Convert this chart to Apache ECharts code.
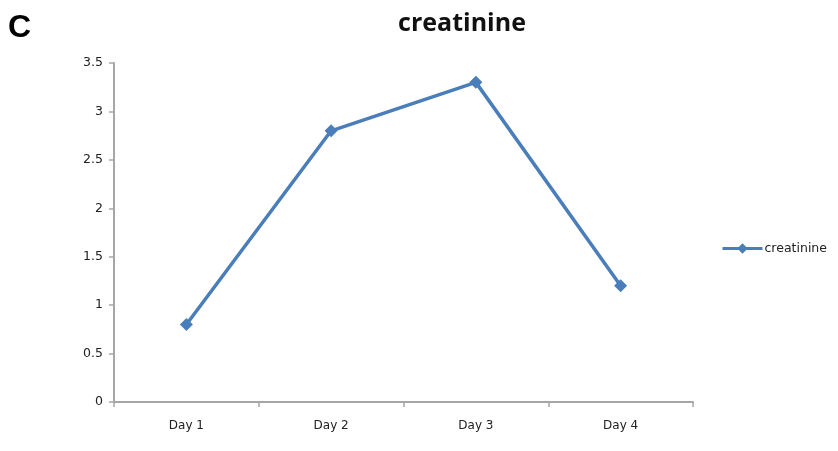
<!DOCTYPE html>
<html><head><meta charset="utf-8">
<script src="https://cdn.jsdelivr.net/npm/echarts@6/dist/echarts.min.js"></script>
<style>html,body{margin:0;padding:0;background:#fff}#c{width:838px;height:451px}</style>
</head><body><div id="c"></div>
<script>
const categories = ['Day 1', 'Day 2', 'Day 3', 'Day 4'];
const creatinine = [0.8, 2.8, 3.3, 1.2];
const seriesName = 'creatinine';
const chart = echarts.init(document.getElementById('c'));
chart.setOption({
  animation: false,
  backgroundColor: '#fff',
  title: {
    text: 'creatinine', left: 457, top: 6, textAlign: 'center',
    textStyle: { fontFamily: 'Open Sans', fontWeight: 'bold', fontSize: 25, color: '#111' }
  },
  graphic: [{
    type: 'text', left: 8, top: 12,
    style: { text: 'C', font: 'bold 32px "Liberation Sans"', fill: '#000' }
  }],
  legend: {
    data: [seriesName],
    left: 716, top: 237, itemWidth: 40, itemHeight: 13, itemGap: 2,
    lineStyle: { width: 3 },
    textStyle: { fontFamily: 'DejaVu Sans', fontSize: 12.5, color: '#222', padding: [0,0,0,-3] }
  },
  grid: { left: 114, right: 145, top: 63, bottom: 49 },
  xAxis: {
    type: 'category', data: categories, boundaryGap: true,
    axisLine: { lineStyle: { color: '#a6a6a6', width: 2 } },
    axisTick: { show: true, alignWithLabel: false, length: 5, lineStyle: { color: '#a6a6a6', width: 1.5 } },
    axisLabel: { fontFamily: 'DejaVu Sans', fontSize: 12, color: '#222', margin: 18 }
  },
  yAxis: {
    type: 'value', min: 0, max: 3.5, interval: 0.5,
    splitLine: { show: false },
    axisLine: { show: true, lineStyle: { color: '#a6a6a6', width: 2 } },
    axisTick: { show: true, length: 5, lineStyle: { color: '#a6a6a6', width: 1.5 } },
    axisLabel: { fontFamily: 'DejaVu Sans', fontSize: 12.5, color: '#222', margin: 11 }
  },
  series: [{
    name: seriesName, type: 'line', data: creatinine,
    symbol: 'diamond', symbolSize: 13,
    lineStyle: { color: '#4a7ebb', width: 3.5 },
    itemStyle: { color: '#4a7ebb' }
  }]
});
</script></body></html>
